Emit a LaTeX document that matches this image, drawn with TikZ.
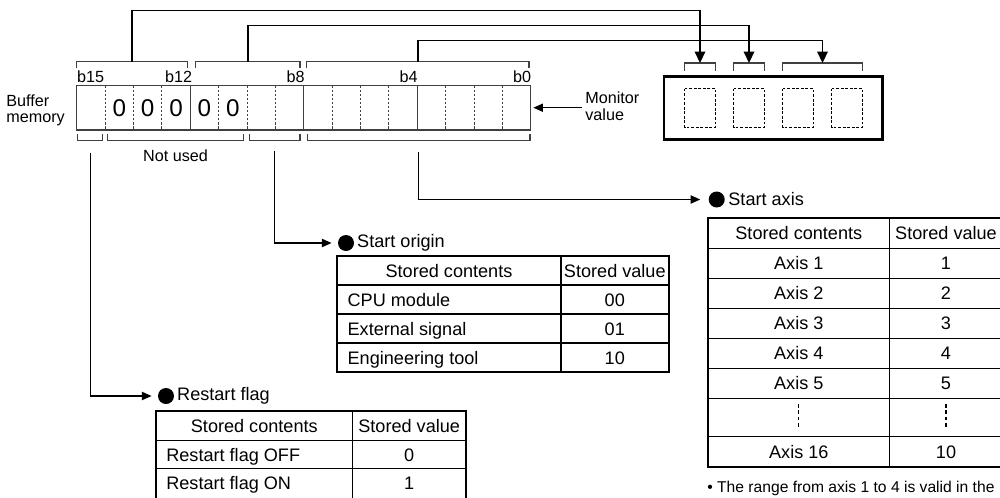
\documentclass[tikz,border=0pt]{standalone}
\usepackage{fontspec}
\setmainfont{Liberation Sans}
\usetikzlibrary{arrows.meta,positioning}

\begin{document}
\begin{tikzpicture}[x=0.2mm,y=-0.2mm,
  reg/.style={black!75,line width=0.6pt},
  regdash/.style={black!75,line width=0.5pt,dash pattern=on 1.4pt off 0.9pt},
  brk/.style={black!75,line width=0.6pt},
  conn/.style={line width=0.9pt,-{Triangle[length=5.5pt,width=4.6pt]},shorten >=1.2mm},
  down/.style={line width=0.9pt,-{Triangle[length=6.5pt,width=6pt]}},
  lbl/.style={font=\fontsize{9.2}{9.3}\selectfont,inner sep=0},
  zero/.style={font=\fontsize{13.8}{14}\selectfont,inner sep=0},
  tbl/.style={font=\fontsize{10.3}{12}\selectfont,inner sep=0,anchor=base},
  ttl/.style={font=\fontsize{10.3}{12}\selectfont,inner sep=0},
  tbo/.style={line width=1.2pt},
  tbi/.style={line width=0.9pt},
  tdash/.style={line width=0.6pt,dash pattern=on 2pt off 1.6pt},
  dbox/.style={line width=0.8pt,dash pattern=on 1.6pt off 1pt},
  bul/.style={circle,fill,inner sep=0,minimum size=3.2mm}]
  \useasboundingbox (0,0) rectangle (1000,497);
  \fill[white] (0,0) rectangle (1000,497);

  % Buffer memory
  \node[lbl,align=left,anchor=west] (buf) at (6,110.5) {Buffer\\memory};
  \draw[reg] (76.7,85.7) rectangle (530.7,130);
  \foreach \k in {4,8,12} \draw[reg] (76.7+28.375*\k,85.7) -- ++(0,44.3);
  \foreach \k in {1,2,3,5,6,7,9,10,11,13,14,15} \draw[regdash] (76.7+28.375*\k,85.7) -- ++(0,44.3);
  \foreach \k in {1,...,5} \node[zero] (z\k) at (76.7+28.375*\k+14.19,108) {0};

  % Bit numbers
  \node[lbl,anchor=base west] (b15) at (76.7,82) {b15};
  \node[lbl,anchor=base east] (b12) at (192.5,82) {b12};
  \node[lbl,anchor=base east] (b8) at (305,82) {b8};
  \node[lbl,anchor=base east] (b4) at (418,82) {b4};
  \node[lbl,anchor=base east] (b0) at (531.5,82) {b0};

  % Brackets
  \foreach \a/\b in {76.7/187.3,195.7/300,306.7/529} \draw[brk] (\a,68.3) |- (\b,61.7) -- (\b,68.3);
  \foreach \a/\b in {77.3/102.3,107.7/243.3,249.3/300,307.3/530} \draw[brk] (\a,134.3) |- (\b,140.7) -- (\b,134.3);
  \node[lbl] (nu) at (175.5,156) {Not used};

  % Monitor value
  \node[lbl,align=left,anchor=west] (mon) at (585,106.2) {Monitor\\value};
  \coordinate (regE) at (533.3,107.7);
  \draw[line width=0.9pt,-{Triangle[length=5.5pt,width=4.6pt]}] ([xshift=-0.7mm]mon.west |- regE) -- (regE);

  % Display
  \draw[line width=1.5pt] (664,76.5) rectangle (882.5,139.5);
  \foreach \x in {684.5,733.5,782.5,831.5} \draw[dbox] (\x,88.5) rectangle ++(31,39);
  \foreach \a/\b in {684.5/715.5,733.5/764.5,782.5/862.5} \draw[brk] (\a,70.5) |- (\b,63) -- (\b,70.5);
  \coordinate (dpA) at (700,63);
  \coordinate (dpB) at (749,63);
  \coordinate (dpC) at (822.5,63);
  \coordinate (tbA) at (132,61.7);
  \coordinate (tbB) at (247.9,61.7);
  \coordinate (tbC) at (417.9,61.7);
  \draw[down] (tbA) -- ++(0,-51) -| (dpA);
  \draw[down] (tbB) -- ++(0,-36) -| (dpB);
  \draw[down] (tbC) -- ++(0,-21) -| (dpC);

  % Connectors to the tables
  \coordinate (bbR) at (90.7,152.7);
  \coordinate (bbO) at (274.7,150.7);
  \coordinate (bbA) at (418.7,151.7);
  \node[bul] (rfB) at (166,396) {};
  \node[ttl,right=0.5mm of rfB] (rfT) {Restart flag};
  \node[bul] (soB) at (346,243) {};
  \node[ttl,right=0.5mm of soB] (soT) {Start origin};
  \node[bul] (saB) at (716.7,199.5) {};
  \node[ttl,right=0.6mm of saB] (saT) {Start axis};
  \draw[conn] (bbR) |- (rfB);
  \draw[conn] (bbO) |- (soB);
  \draw[conn,shorten >=1.6mm] (bbA) |- (saB);

  % Start origin table
  \draw[tbo] (337.3,256) rectangle (668.7,372);
  \draw[tbi] (561,256) -- (561,372);
  \foreach \y in {285,314,343} \draw[tbi] (337.3,\y) -- (668.7,\y);
  \node[tbl] (soH1) at (449,277) {Stored contents};
  \node[tbl] (soH2) at (614.8,277) {Stored value};
  \node[tbl,anchor=base west] (so1) at (347.3,306) {CPU module};
  \node[tbl] (sov1) at (614.8,306) {00};
  \node[tbl,anchor=base west] (so2) at (347.3,335) {External signal};
  \node[tbl] (sov2) at (614.8,335) {01};
  \node[tbl,anchor=base west] (so3) at (347.3,364) {Engineering tool};
  \node[tbl] (sov3) at (614.8,364) {10};

  % Restart flag table
  \draw[tbo] (156,411) rectangle (465.7,499);
  \draw[tbi] (352.7,411) -- (352.7,499);
  \foreach \y in {440.5,468.5} \draw[tbi] (156,\y) -- (465.7,\y);
  \node[tbl] (rfH1) at (254.3,432.2) {Stored contents};
  \node[tbl] (rfH2) at (409.2,432.2) {Stored value};
  \node[tbl,anchor=base west] (rf1) at (166,461) {Restart flag OFF};
  \node[tbl] (rfv1) at (409.2,461) {0};
  \node[tbl,anchor=base west] (rf2) at (166,489.5) {Restart flag ON};
  \node[tbl] (rfv2) at (409.2,489.5) {1};

  % Start axis table
  \draw[tbo] (708.3,218.3) rectangle (1003,466.7);
  \draw[tbi] (889.3,218.3) -- (889.3,466.7);
  \foreach \y in {248.3,278.3,308.3,338.3,368.3,398.3,436.7} \draw[tbi] (708.3,\y) -- (1003,\y);
  \node[tbl] (saH1) at (798.8,239.8) {Stored contents};
  \node[tbl] (saH2) at (946,239.8) {Stored value};
  \foreach \n in {1,...,5} {
    \node[tbl] (sa\n) at (798.8,239.8+30*\n) {Axis \n};
    \node[tbl] (sav\n) at (946,239.8+30*\n) {\n};
  }
  \draw[tdash] (798.8,404) -- (798.8,429);
  \draw[tdash] (946,404) -- (946,429);
  \node[tbl] (sa16) at (798.8,458.2) {Axis 16};
  \node[tbl] (sav16) at (946,458.2) {10};
  \node[lbl,font=\fontsize{8.9}{9}\selectfont,anchor=base west] (note) at (707,492.7) {• The range from axis 1 to 4 is valid in the};
\end{tikzpicture}
\end{document}
